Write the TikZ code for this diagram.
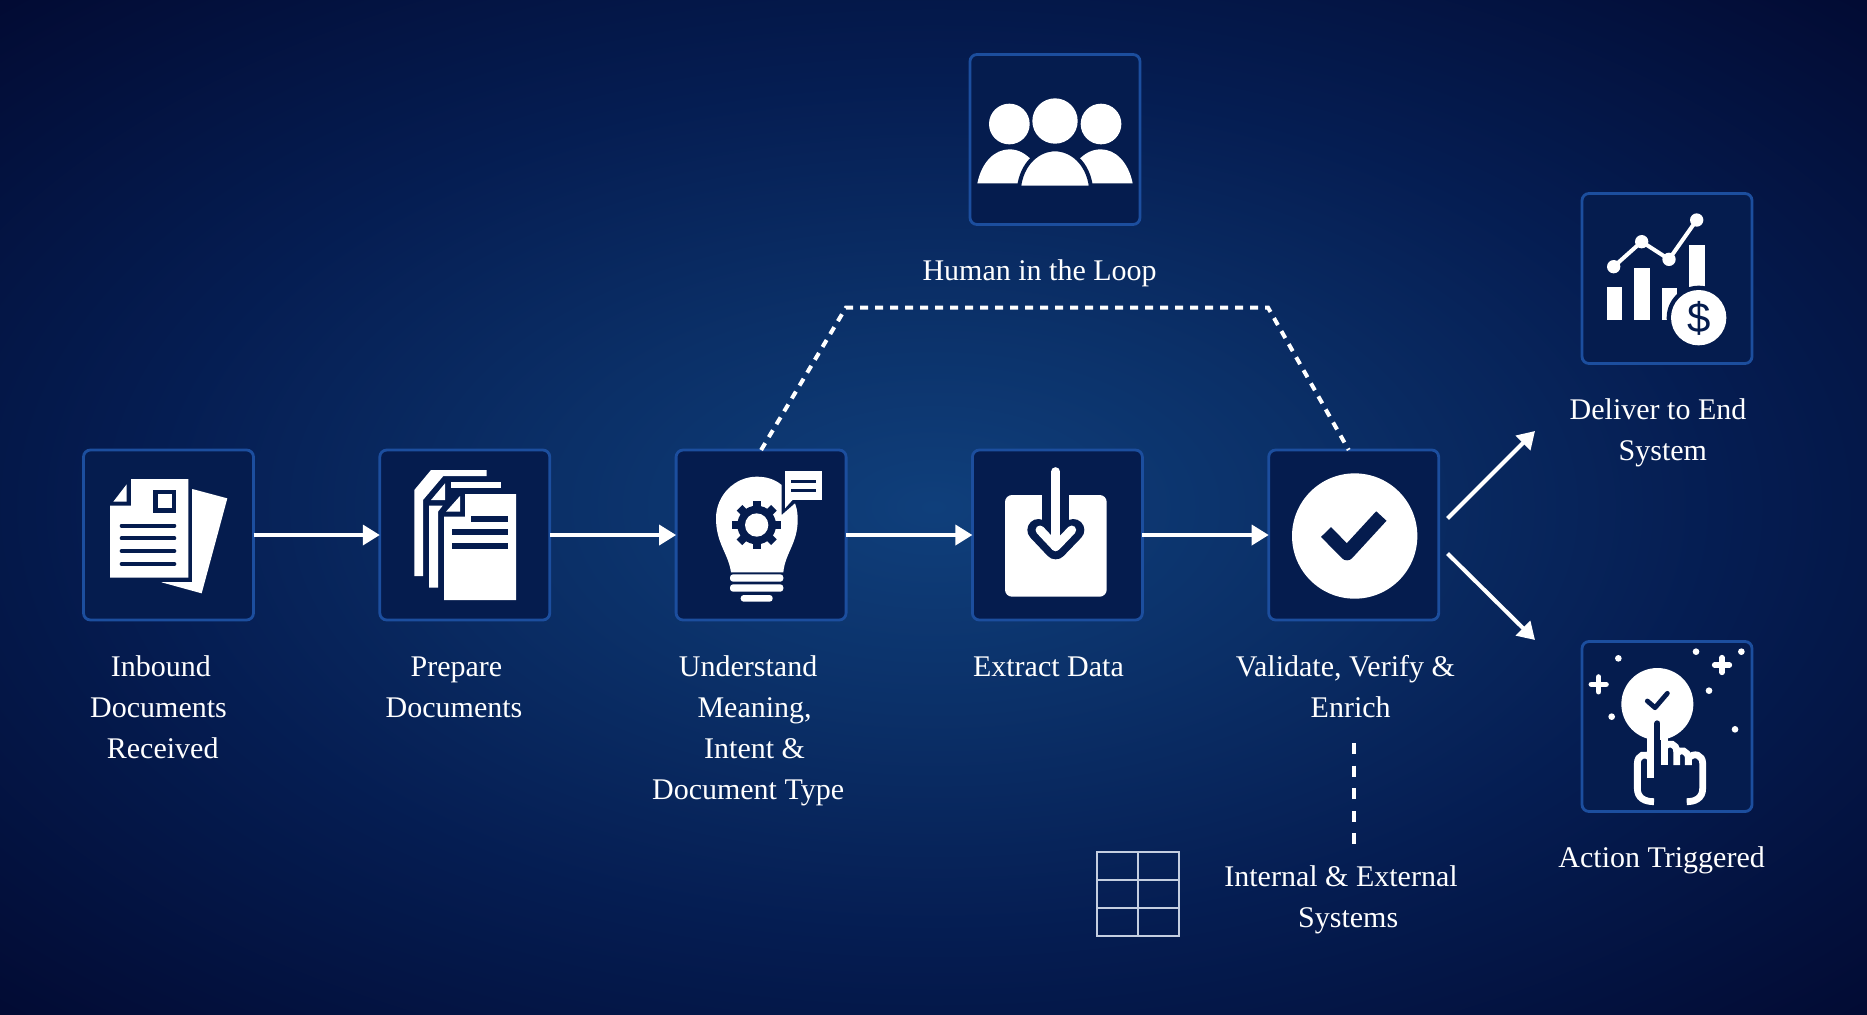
\documentclass[tikz,border=0pt]{standalone}
\usepackage{fontspec}
\setmainfont{Liberation Serif}
\setsansfont{Liberation Sans}
\definecolor{boxfill}{HTML}{051C4E}
\definecolor{boxline}{HTML}{1C4E9E}
\definecolor{glowa}{HTML}{0F3F7B}
\definecolor{glowb}{HTML}{0B3068}
\definecolor{glowc}{HTML}{051D52}
\definecolor{glowd}{HTML}{020A32}
\definecolor{gridline}{HTML}{C4CEE0}
\pgfdeclareradialshading{bgglow}{\pgfpoint{0bp}{0bp}}{color(0bp)=(glowa); color(10bp)=(glowb); color(21bp)=(glowc); color(36bp)=(glowd); color(100bp)=(glowd)}
\usepackage{tikz}
\usetikzlibrary{arrows.meta,positioning,calc}

\begin{document}
\begin{tikzpicture}[
x=.5pt, y=-.5pt,
node distance=63.15pt,
iconbox/.style={rectangle, draw=boxline, fill=boxfill, line width=1.4pt, rounded corners=3.5pt, minimum size=85pt, outer sep=0pt},
lbl/.style={align=center, text=white, inner sep=0pt, font=\fontsize{15}{20.5}\selectfont},
arrow/.style={-{Triangle[length=8.5pt,width=10pt]}, line width=1.8pt, white},
dashlink/.style={white, line width=2pt, dash pattern=on 4pt off 3.5pt},
crop/.style 2 args={shift={(#1,#2)}, x=.16667pt, y=-.16667pt}
]
\shade[shading=bgglow] (0,0) rectangle (1867,1014);

\node (inbound) [iconbox] at (168.5,535) {};
\node (prepare) [iconbox, right=of inbound] {};
\node (understand) [iconbox, right=of prepare] {};
\node (extract) [iconbox, right=of understand] {};
\node (validate) [iconbox, right=of extract] {};
\node (human) [iconbox] at (1055,139.5) {};
\node (deliver) [iconbox] at (1667,278.5) {};
\node (action) [iconbox] at (1667,726.5) {};
\node (grid) [rectangle, draw=gridline, line width=.7pt, minimum width=41pt, minimum height=42pt, outer sep=0pt] at (1138,894) {};

\node (inboundlbl) [lbl, below=17.6pt of inbound, xshift=-5pt] {\hspace*{2.4pt}Inbound\\Documents\\\hspace*{4.2pt}Received};
\node (preparelbl) [lbl, below=18.1pt of prepare, xshift=-5.4pt] {\hspace*{2.4pt}Prepare\\Documents};
\node (understandlbl) [lbl, below=17.6pt of understand, xshift=-6.5pt] {Understand\\\hspace*{6.5pt}Meaning,\\\hspace*{6.5pt}Intent \&\\Document Type};
\node (extractlbl) [lbl, below=18.1pt of extract, xshift=-4.5pt] {Extract Data};
\node (validatelbl) [lbl, below=17.6pt of validate, xshift=-4.2pt] {Validate, Verify \&\\\hspace*{5.4pt}Enrich};
\node (humanlbl) [lbl, below=17.6pt of human, xshift=-7.7pt] {Human in the Loop};
\node (deliverlbl) [lbl, below=17.6pt of deliver, xshift=-4.5pt] {Deliver to End\\\hspace*{4.8pt}System};
\node (actionlbl) [lbl, below=17.6pt of action, xshift=-2.7pt] {Action Triggered};
\node (systemslbl) [lbl, anchor=north] at (1341,865) {Internal \& External\\\hspace*{7.2pt}Systems};

\coordinate (hitlleft) at (846,307.5);
\coordinate (hitlright) at (1268,307.5);
\coordinate (forkup) at (1447.5,518.5);
\coordinate (forkdown) at (1447.5,553.5);
\coordinate (deliverin) at (1535,431);
\coordinate (actionin) at (1535,640);
\coordinate (syscallup) at (1354,743);
\coordinate (syscalldown) at (1354,845);

\draw [arrow] (inbound) -- (prepare);
\draw [arrow] (prepare) -- (understand);
\draw [arrow] (understand) -- (extract);
\draw [arrow] (extract) -- (validate);
\draw [arrow, line width=2pt] (forkup) -- (deliverin);
\draw [arrow, line width=2pt] (forkdown) -- (actionin);
\draw [dashlink] (understand.north) -- (hitlleft) -- (hitlright) -- ([xshift=-2.5pt]validate.north);
\draw [white, line width=2pt, dash pattern=on 5.5pt off 5.8pt] (syscallup) -- (syscalldown);
\draw [gridline, line width=.7pt] (grid.north) -- (grid.south);
\draw [gridline, line width=1pt] (1097,880) -- (1179,880);
\draw [gridline, line width=1pt] (1097,908) -- (1179,908);

% inbound icon
\begin{scope}[crop={70}{440}]
\fill [white] (367,147) -- (472,175) -- (395,460) -- (275,427) -- cycle;
\fill [boxfill] (108,105) rectangle (367,425);
\fill [white] (183,117) -- (355,117) -- (355,413) -- (120,413) -- (120,197) -- (183,197) -- cycle;
\fill [white] (130,185) -- (170,185) -- (170,133) -- cycle;
\fill [boxfill] (250,150) rectangle (318,218);
\fill [white] (263,163) rectangle (305,205);
\foreach \y in {257,295,333,372}
  \draw [boxfill, line width=2pt, line cap=round] (155,\y) -- (313,\y);
\end{scope}

% prepare icon
\begin{scope}[crop={70}{440}]
\fill [white] (1033,150) -- (1083,90) -- (1250,90) -- (1250,108) -- (1120,108) -- (1059,180) -- (1059,408) -- (1033,408) -- cycle;
\fill [white] (1083,180) -- (1125,180) -- (1125,130) -- cycle;
\fill [white] (1142,127) -- (1293,127) -- (1293,145) -- (1142,145) -- cycle;
\fill [white] (1077,197) -- (1118,197) -- (1104,215) -- (1104,443) -- (1077,443) -- cycle;
\fill [white] (1128,215) -- (1170,215) -- (1170,168) -- cycle;
\fill [white] (1185,162) -- (1338,162) -- (1338,480) -- (1122,480) -- (1122,230) -- (1185,230) -- cycle;
\fill [boxfill] (1203,228) rectangle (1315,245);
\fill [boxfill] (1146,268) rectangle (1315,285);
\fill [boxfill] (1146,309) rectangle (1315,326);
\end{scope}

% understand icon
\begin{scope}[crop={660}{440}]
\fill [white] (213,397) .. controls (205,340) and (168,310) .. (168,235) .. controls (168,165) and (225,110) .. (290,110) .. controls (320,110) and (345,118) .. (365,135) -- (365,225) -- (405,190) .. controls (413,210) and (413,230) .. (413,240) .. controls (413,310) and (375,340) .. (370,397) -- cycle;
\fill [boxfill] (290,255) circle (58);
\foreach \a in {0,45,...,315}
  \fill [boxfill, rotate around={\a:(290,255)}] (278,182) rectangle (302,215);
\fill [white] (290,255) circle (35);
\fill [white] (375,93) rectangle (487,180);
\fill [white] (375,175) -- (375,205) -- (402,175) -- cycle;
\draw [boxfill, line width=1.5pt] (393,125) -- (468,125);
\draw [boxfill, line width=1.5pt] (393,150) -- (468,150);
\fill [white, rounded corners=1.5pt] (210,403) rectangle (370,425);
\fill [white, rounded corners=1.5pt] (210,433) rectangle (370,455);
\fill [white, rounded corners=1.5pt] (242,465) rectangle (338,485);
\end{scope}

% extract icon
\begin{scope}[crop={660}{440}]
\fill [white, rounded corners=3.5pt] (1035,165) rectangle (1340,470);
\fill [boxfill] (1146,160) rectangle (1228,290);
\draw [boxfill, line width=11pt, line cap=round, line join=round] (1135,270) -- (1187,325) -- (1240,270);
\draw [white, line width=4.5pt, line cap=round] (1187,95) -- (1187,320);
\draw [white, line width=4.5pt, line cap=round, line join=round] (1140,270) -- (1187,320) -- (1235,270);
\end{scope}

% validate icon
\begin{scope}[crop={1240}{420}]
\fill [white] (344,348) circle (188);
\draw [boxfill, line width=7pt, line join=round] (258,336) -- (321,400) -- (424,288);
\end{scope}

% human icon
\begin{scope}[crop={960}{40}]
\fill [white] (148,252) circle (61);
\fill [white] (285,243) circle (68);
\fill [white] (423,252) circle (61);
\fill [white] (52,430) .. controls (65,365) and (105,328) .. (148,328) .. controls (175,328) and (195,340) .. (215,360) -- (180,430) -- cycle;
\fill [white] (518,430) .. controls (505,365) and (465,328) .. (423,328) .. controls (395,328) and (375,340) .. (355,360) -- (390,430) -- cycle;
\fill [white, draw=boxfill, line width=2pt] (177,443) .. controls (185,370) and (235,328) .. (285,328) .. controls (335,328) and (385,370) .. (393,443) -- cycle;
\end{scope}

% deliver icon
\begin{scope}[crop={1570}{180}]
\fill [white] (111,322) rectangle (157,420);
\fill [white] (193,263) rectangle (240,420);
\fill [white] (275,325) rectangle (322,420);
\fill [white] (358,195) rectangle (405,340);
\draw [white, line width=2pt] (131,260) -- (215,185) -- (297,238) -- (380,120);
\foreach \p in {(131,260),(215,185),(297,238),(380,120)}
  \fill [white] \p circle (20);
\fill [boxfill] (386,413) circle (96);
\fill [white] (386,413) circle (83);
\node (dollar) [text=boxfill, inner sep=0pt, font=\fontsize{21}{21}\sffamily] at (386,415) {\$};
\end{scope}

% action icon
\begin{scope}[crop={1570}{630}]
\fill [white] (262,222) circle (108);
\draw [boxfill, line width=2.4pt, line cap=round, line join=round] (232,213) -- (255,233) -- (292,190);
\foreach \p in {(145,85),(378,65),(514,65),(417,182),(125,260),(495,298)}
  \fill [white] \p circle (10);
\foreach \p in {(86,163),(456,105)} {
  \draw [white, line width=2.8pt, line cap=round] \p ++(-22,0) -- ++(44,0);
  \draw [white, line width=2.8pt, line cap=round] \p ++(0,-22) -- ++(0,44);
}
\draw [boxfill, line width=3pt, line cap=round] (262,280) -- (262,325);
\fill [boxfill] (253,320) rectangle (271,405);
\draw [white, line width=3.4pt] (241,315) -- (241,445);
\draw [white, line width=3.4pt] (284,320) -- (284,405);
\draw [white, line width=3.4pt] (284,350) .. controls (295,335) and (320,340) .. (320,365) -- (320,405);
\draw [white, line width=3.4pt] (320,370) .. controls (330,355) and (355,362) .. (355,385) -- (355,405);
\draw [white, line width=3.4pt] (355,385) .. controls (372,365) and (398,375) .. (398,400) -- (398,475) .. controls (398,505) and (375,515) .. (350,515);
\draw [white, line width=3.4pt] (241,385) .. controls (228,365) and (202,375) .. (202,400) -- (202,475) .. controls (202,505) and (225,515) .. (252,515);
\end{scope}
\end{tikzpicture}
\end{document}
